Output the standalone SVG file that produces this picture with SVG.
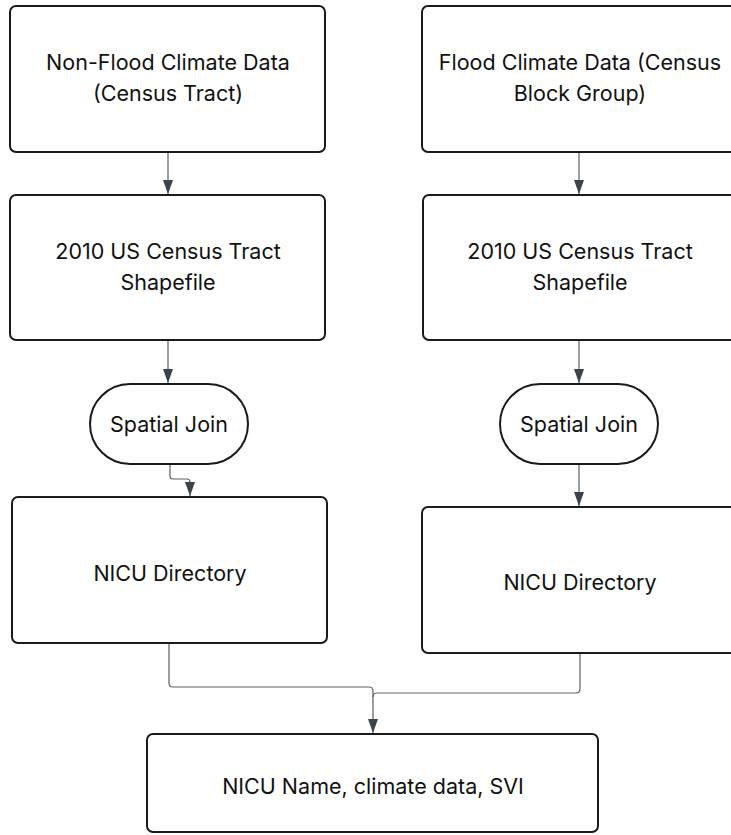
<svg xmlns="http://www.w3.org/2000/svg" width="731" height="835" viewBox="0 0 731 835">
<style>
.box{fill:#fff;stroke:#1a1a1a;stroke-width:2}
.t{font-family:Inter,"Liberation Sans",sans-serif;font-size:21.5px;fill:#111;text-anchor:middle}
.c{fill:none;stroke:#5a6168;stroke-width:1.2}
</style>
<defs>
<marker id="ah" viewBox="0 0 14 10" refX="14" refY="5" markerWidth="14" markerHeight="10" markerUnits="userSpaceOnUse" orient="auto">
<path d="M0,0 L14,5 L0,10 z" fill="#3b444c"/>
</marker>
</defs>
<rect width="731" height="835" fill="#fff"/>
<g id="connectors">
<path class="c" d="M168,152 V194" marker-end="url(#ah)"/>
<path class="c" d="M168,340 V383" marker-end="url(#ah)"/>
<path class="c" d="M170,464 V476 Q170,479 173,479 H187 Q190,479 190,482 V496" marker-end="url(#ah)"/>
<path class="c" d="M579,152 V194" marker-end="url(#ah)"/>
<path class="c" d="M579,340 V383" marker-end="url(#ah)"/>
<path class="c" d="M579,464 V506" marker-end="url(#ah)"/>
<path class="c" d="M169,643 V683 Q169,687 173,687 H369 Q373,687 373,691 V733" marker-end="url(#ah)"/>
<path class="c" d="M580,653 V689 Q580,693 576,693 H377 Q373,693 373,697"/>
</g>
<g id="n1"><rect class="box" x="10" y="6" width="315" height="146" rx="6"/>
<text class="t" x="168" y="70">Non-Flood Climate Data</text><text class="t" x="168" y="101">(Census Tract)</text></g>
<g id="n2"><rect class="box" x="10" y="195" width="315" height="145" rx="6"/>
<text class="t" x="168" y="259">2010 US Census Tract</text><text class="t" x="168" y="290">Shapefile</text></g>
<g id="n3"><rect class="box" x="90" y="384" width="158" height="80" rx="40"/>
<text class="t" x="169" y="432">Spatial Join</text></g>
<g id="n4"><rect class="box" x="12" y="497" width="315" height="146" rx="6"/>
<text class="t" x="170" y="581">NICU Directory</text></g>
<g id="n5"><rect class="box" x="422" y="6" width="315" height="146" rx="6"/>
<text class="t" x="580" y="70">Flood Climate Data (Census</text><text class="t" x="580" y="101">Block Group)</text></g>
<g id="n6"><rect class="box" x="423" y="195" width="315" height="145" rx="6"/>
<text class="t" x="580" y="259">2010 US Census Tract</text><text class="t" x="580" y="290">Shapefile</text></g>
<g id="n7"><rect class="box" x="500" y="384" width="158" height="80" rx="40"/>
<text class="t" x="579" y="432">Spatial Join</text></g>
<g id="n8"><rect class="box" x="422" y="507" width="315" height="146" rx="6"/>
<text class="t" x="580" y="590">NICU Directory</text></g>
<g id="n9"><rect class="box" x="147" y="734" width="451" height="98" rx="6"/>
<text class="t" x="373" y="794">NICU Name, climate data, SVI</text></g>
</svg>
